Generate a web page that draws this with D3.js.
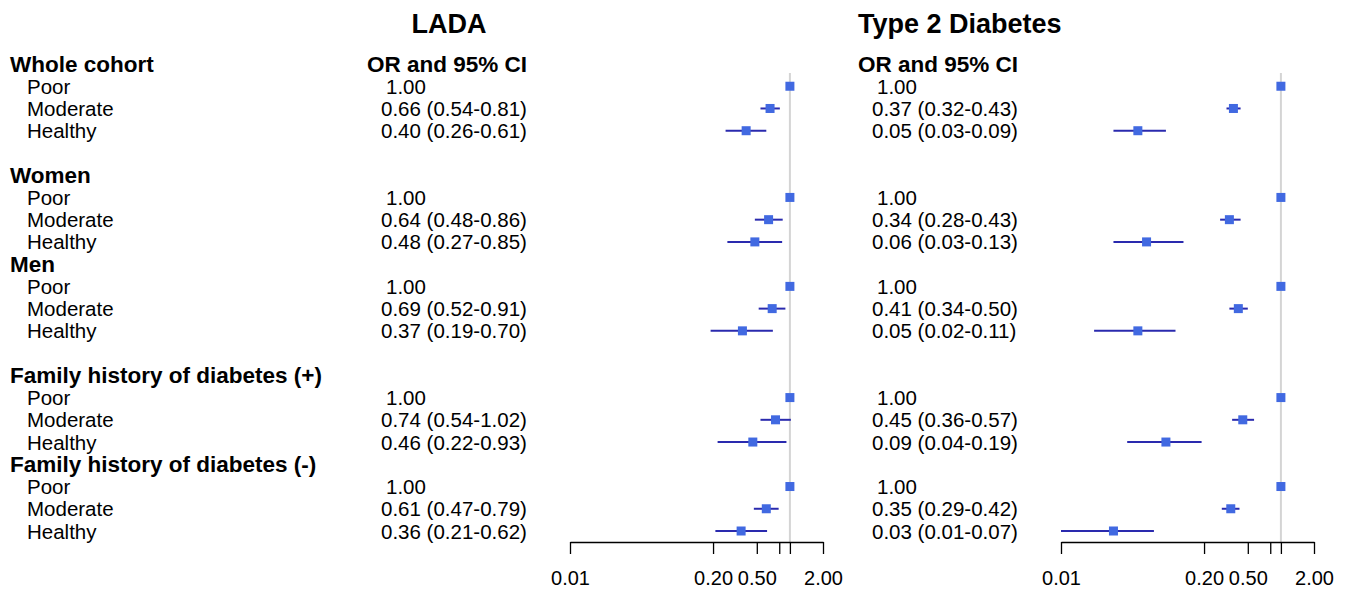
<!DOCTYPE html>
<html>
<head>
<meta charset="utf-8">
<script src="https://cdn.jsdelivr.net/npm/d3@7"></script>
<style>
  body { margin:0; background:#fff; }
  text { font-family: "Liberation Sans", Arial, Helvetica, sans-serif; fill:#000; }
  .axis path, .axis line { stroke:#000; stroke-width:1.3; }
</style>
</head>
<body>
<div id="graph"></div>
<script>
var groups = ["Whole cohort", "Women", "Men", "Family history of diabetes (+)", "Family history of diabetes (-)"];
var groupRows = [0, 5, 9, 14, 18];
var levels = ["Poor", "Moderate", "Healthy"];

// LADA: odds ratios and 95% CI, per group (Poor, Moderate, Healthy)
var ladaOR = [1.00, 0.66, 0.40,  1.00, 0.64, 0.48,  1.00, 0.69, 0.37,  1.00, 0.74, 0.46,  1.00, 0.61, 0.36];
var ladaLo = [null, 0.54, 0.26,  null, 0.48, 0.27,  null, 0.52, 0.19,  null, 0.54, 0.22,  null, 0.47, 0.21];
var ladaHi = [null, 0.81, 0.61,  null, 0.86, 0.85,  null, 0.91, 0.70,  null, 1.02, 0.93,  null, 0.79, 0.62];

// Type 2 diabetes
var t2dOR = [1.00, 0.37, 0.05,  1.00, 0.34, 0.06,  1.00, 0.41, 0.05,  1.00, 0.45, 0.09,  1.00, 0.35, 0.03];
var t2dLo = [null, 0.32, 0.03,  null, 0.28, 0.03,  null, 0.34, 0.02,  null, 0.36, 0.04,  null, 0.29, 0.01];
var t2dHi = [null, 0.43, 0.09,  null, 0.43, 0.13,  null, 0.50, 0.11,  null, 0.57, 0.19,  null, 0.42, 0.07];

var tickVals = [0.01, 0.2, 0.5, 0.8, 1, 2];
var tickLabels = ["0.01", "0.20", "0.50", "", "", "2.00"];

var svg = d3.select("#graph").append("svg").attr("width", 1347).attr("height", 592);

var y = d3.scaleLinear().domain([0, 21]).range([64, 531]);
var f2 = d3.format(".2f");

// build row list
var rows = [];
groups.forEach(function(g, gi){
  rows.push({label:g, row:groupRows[gi], header:true});
  levels.forEach(function(l, li){
    rows.push({label:l, row:groupRows[gi]+1+li, header:false, idx:gi*3+li});
  });
});

// left labels
svg.selectAll("text.lab")
  .data(rows)
  .enter().append("text")
    .attr("class", "lab")
    .attr("x", function(d){ return d.header ? 10 : 27; })
    .attr("y", function(d){ return y(d.row) + (d.header ? 8 : 7.5); })
    .style("font-size", function(d){ return d.header ? "22.5px" : "20.5px"; })
    .style("font-weight", function(d){ return d.header ? "bold" : "normal"; })
    .text(function(d){ return d.label; });

function panel(title, titleX, titleAnchor, colX, x0, or, lo, hi){
  svg.append("text")
    .attr("x", titleX).attr("y", 33)
    .attr("text-anchor", titleAnchor)
    .style("font-size", "27px").style("font-weight", "bold")
    .text(title);

  svg.append("text")
    .attr("x", colX).attr("y", y(0) + 8)
    .style("font-size", "22.5px").style("font-weight", "bold")
    .text("OR and 95% CI");

  var items = rows.filter(function(d){ return !d.header; });

  svg.append("g").selectAll("text")
    .data(items)
    .enter().append("text")
      .attr("x", function(d){ return lo[d.idx] == null ? colX + 19 : colX + 14; })
      .attr("y", function(d){ return y(d.row) + 7.5; })
      .style("font-size", "20.5px")
      .text(function(d){
        var i = d.idx;
        return lo[i] == null ? f2(or[i]) : f2(or[i]) + " (" + f2(lo[i]) + "-" + f2(hi[i]) + ")";
      });

  var x = d3.scaleLog().domain([0.01, 2]).range([x0, x0 + 253]);

  // reference line at 1
  svg.append("line")
    .attr("x1", x(1)).attr("x2", x(1))
    .attr("y1", 73).attr("y2", 542)
    .attr("stroke", "#d4d4d4").attr("stroke-width", 2);

  var g = svg.append("g");
  g.selectAll("line.ci")
    .data(items.filter(function(d){ return lo[d.idx] != null; }))
    .enter().append("line")
      .attr("class", "ci")
      .attr("x1", function(d){ return x(lo[d.idx]); })
      .attr("x2", function(d){ return x(hi[d.idx]); })
      .attr("y1", function(d){ return y(d.row); })
      .attr("y2", function(d){ return y(d.row); })
      .attr("stroke", "#2a2aae").attr("stroke-width", 2);

  g.selectAll("rect")
    .data(items)
    .enter().append("rect")
      .attr("x", function(d){ return x(or[d.idx]) - 4.5; })
      .attr("y", function(d){ return y(d.row) - 4.5; })
      .attr("width", 9).attr("height", 9)
      .attr("fill", "#4169e1");

  var axis = d3.axisBottom(x)
    .tickValues(tickVals)
    .tickFormat(function(d, i){ return tickLabels[i]; })
    .tickSize(12).tickSizeOuter(0).tickPadding(17);

  var ax = svg.append("g")
    .attr("class", "axis")
    .attr("transform", "translate(0,542)")
    .call(axis);
  ax.selectAll("text")
    .style("font-size", "20px")
    .style("font-family", "'Liberation Sans', Arial, sans-serif")
    .attr("fill", "#000");
}

panel("LADA", 449, "middle", 367, 570, ladaOR, ladaLo, ladaHi);
panel("Type 2 Diabetes", 858, "start", 858, 1061, t2dOR, t2dLo, t2dHi);
</script>
</body>
</html>
